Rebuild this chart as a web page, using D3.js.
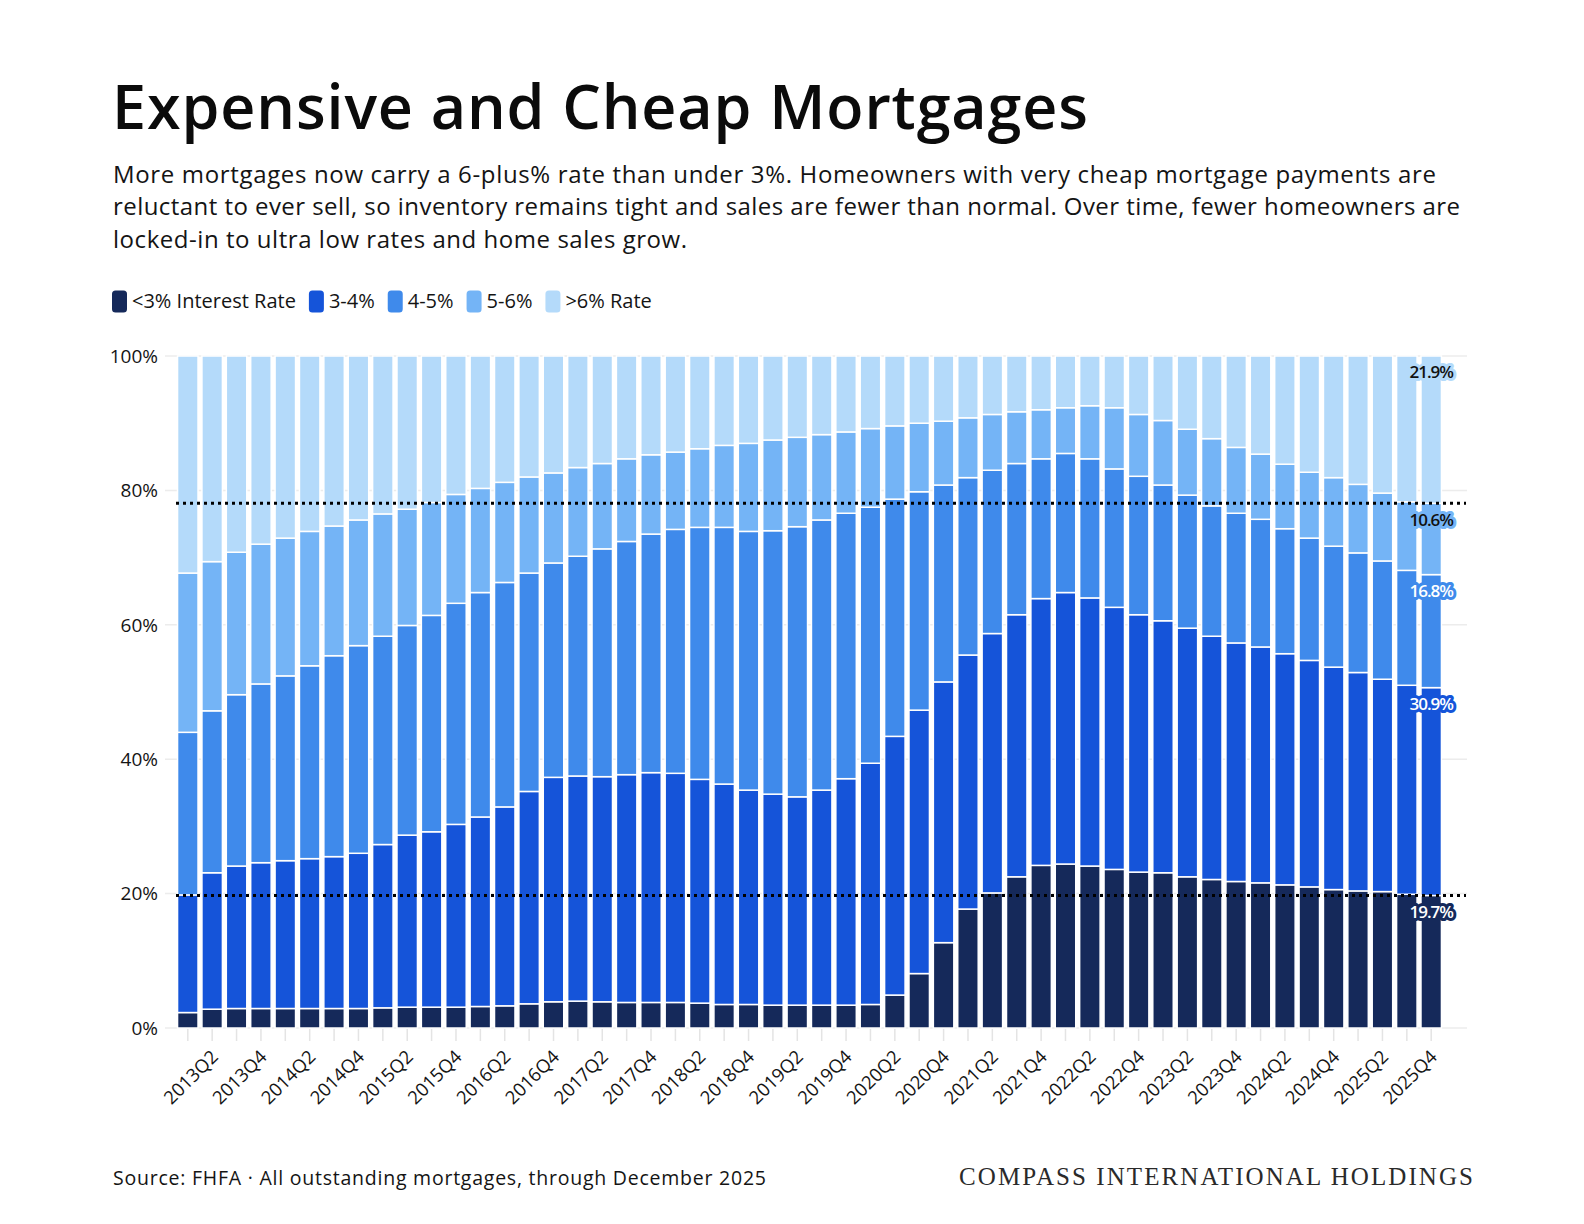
<!DOCTYPE html>
<html>
<head>
<meta charset="utf-8">
<script src="https://cdn.jsdelivr.net/npm/d3@7"></script>
<style>
  body { margin: 0; background: #fff; }
  text { font-family: "Open Sans", Lato, "Noto Sans", sans-serif; }
  .brand { font-family: "Liberation Serif", "DejaVu Serif", serif; }
</style>
</head>
<body>
<div class="chart"></div>
<script>
// quarters (x categories)
const quarters = [
  "2013Q1","2013Q2","2013Q3","2013Q4","2014Q1","2014Q2","2014Q3","2014Q4",
  "2015Q1","2015Q2","2015Q3","2015Q4","2016Q1","2016Q2","2016Q3","2016Q4",
  "2017Q1","2017Q2","2017Q3","2017Q4","2018Q1","2018Q2","2018Q3","2018Q4",
  "2019Q1","2019Q2","2019Q3","2019Q4","2020Q1","2020Q2","2020Q3","2020Q4",
  "2021Q1","2021Q2","2021Q3","2021Q4","2022Q1","2022Q2","2022Q3","2022Q4",
  "2023Q1","2023Q2","2023Q3","2023Q4","2024Q1","2024Q2","2024Q3","2024Q4",
  "2025Q1","2025Q2","2025Q3","2025Q4"
];

// share of outstanding mortgages by rate bucket, %
const lt3 = [2.3,2.8,2.9,2.9,2.9,2.9,2.9,2.9,3.0,3.1, 3.1,3.1,3.2,3.3,3.6,3.9,4.0,3.9,3.8,3.8,
  3.8,3.7,3.5,3.5,3.4,3.4,3.4,3.4,3.5,4.9, 8.1,12.7,17.7,20.1,22.5,24.2,24.4,24.1,23.6,23.2,
  23.1,22.5,22.1,21.8,21.6,21.3,21.0,20.6,20.4,20.3, 19.9,19.7];
const r34 = [17.5,20.3,21.2,21.7,22.0,22.3,22.6,23.1,24.3,25.6, 26.1,27.2,28.2,29.6,31.6,33.4,33.5,33.5,33.9,34.2,
  34.1,33.3,32.8,31.9,31.4,31.0,32.0,33.7,35.9,38.5, 39.2,38.8,37.8,38.6,39.0,39.7,40.4,39.9,39.0,38.3,
  37.5,37.0,36.2,35.5,35.1,34.4,33.7,33.1,32.5,31.6, 31.1,30.9];
const r45 = [24.2,24.1,25.5,26.6,27.5,28.7,29.9,30.9,31.0,31.2, 32.2,32.9,33.4,33.4,32.5,31.9,32.7,33.9,34.7,35.5,
  36.3,37.5,38.2,38.5,39.2,40.2,40.2,39.5,38.1,35.3, 32.5,29.3,26.4,24.3,22.5,20.8,20.7,20.7,20.6,20.6,
  20.2,19.8,19.4,19.3,19.0,18.6,18.2,18.0,17.8,17.6, 17.1,16.8];
const r56 = [23.7,22.2,21.2,20.8,20.5,20.0,19.3,18.7,18.2,17.3, 16.8,16.2,15.5,14.9,14.3,13.4,13.2,12.7,12.3,11.8,
  11.5,11.7,12.2,13.1,13.5,13.3,12.7,12.1,11.7,10.9, 10.2,9.5,8.9,8.3,7.7,7.3,6.8,7.9,9.1,9.2,
  9.6,9.8,10.0,9.8,9.7,9.6,9.8,10.2,10.2,10.1, 10.2,10.6];
const gt6 = [32.3,30.6,29.2,28.0,27.1,26.1,25.3,24.4,23.5,22.8, 21.8,20.6,19.7,18.8,18.0,17.4,16.6,16.0,15.3,14.7,
  14.3,13.8,13.3,13.0,12.5,12.1,11.7,11.3,10.8,10.4, 10.0,9.7,9.2,8.7,8.3,8.0,7.7,7.4,7.7,8.7,
  9.6,10.9,12.3,13.6,14.6,16.1,17.3,18.1,19.1,20.4, 21.7,21.9];

const keys = ["lt3", "r34", "r45", "r56", "gt6"];
const seriesNames = ["<3% Interest Rate", "3-4%", "4-5%", "5-6%", ">6% Rate"];
const colors = ["#15295a", "#1554d9", "#3f8aeb", "#74b4f6", "#b4dafa"];
const labelColors = ["#fff", "#fff", "#fff", "#111", "#111"];
const yTicks = [0, 0.2, 0.4, 0.6, 0.8, 1];

const width = 1584, height = 1224;

const svg = d3.select(".chart").append("svg")
    .attr("width", width)
    .attr("height", height)
    .style("display", "block");

// make a text line cover the same width as in the original
function fit(sel, target) {
    sel.attr("textLength", target).attr("lengthAdjust", "spacing");
    return sel;
}

// title + subtitle
fit(svg.append("text")
    .attr("x", 112).attr("y", 129)
    .attr("font-size", 61)
    .attr("font-weight", 600)
    .attr("fill", "#0b0b0b")
    .text("Expensive and Cheap Mortgages"), 976);

const subtitle = [
    ["More mortgages now carry a 6-plus% rate than under 3%. Homeowners with very cheap mortgage payments are", 1323],
    ["reluctant to ever sell, so inventory remains tight and sales are fewer than normal. Over time, fewer homeowners are", 1347],
    ["locked-in to ultra low rates and home sales grow.", 574]
];
subtitle.forEach((s, i) => {
    fit(svg.append("text")
        .attr("x", 113).attr("y", 183 + i * 32.4)
        .attr("font-size", 24)
        .attr("fill", "#141414")
        .text(s[0]), s[1]);
});

// legend
let lx = 112;
seriesNames.forEach((name, i) => {
    svg.append("rect")
        .attr("x", lx).attr("y", 290.5)
        .attr("width", 15).attr("height", 22)
        .attr("rx", 3.5)
        .attr("fill", colors[i]);
    const t = svg.append("text")
        .attr("x", lx + 20).attr("y", 307.5)
        .attr("font-size", 20)
        .attr("fill", "#141414")
        .text(name);
    lx += 20 + t.node().getComputedTextLength() + 13;
});

// scales
const x = d3.scaleBand()
    .domain(quarters)
    .range([175.6, 1443.4])
    .paddingInner(0.16)
    .paddingOuter(0.08);

const y = d3.scaleLinear()
    .domain([0, 1])
    .range([1028, 356]);

const rows = quarters.map((q, i) => ({
    q: q, lt3: lt3[i], r34: r34[i], r45: r45[i], r56: r56[i], gt6: gt6[i]
}));

const stack = d3.stack()
    .keys(keys)
    .offset(d3.stackOffsetExpand)(rows);

// gridlines + y labels
svg.append("g").selectAll("line")
    .data(yTicks)
    .join("line")
    .attr("x1", 165).attr("x2", 1467)
    .attr("y1", d => y(d)).attr("y2", d => y(d))
    .attr("stroke", "#ececec")
    .attr("stroke-width", 1.5);

svg.append("g").selectAll("text")
    .data(yTicks)
    .join("text")
    .attr("x", 158)
    .attr("y", d => y(d))
    .attr("dy", "0.36em")
    .attr("text-anchor", "end")
    .attr("font-size", 19)
    .attr("fill", "#141414")
    .text(d3.format(".0%"));

// x ticks
svg.append("g").selectAll("line")
    .data(quarters)
    .join("line")
    .attr("x1", d => x(d) + x.bandwidth() / 2)
    .attr("x2", d => x(d) + x.bandwidth() / 2)
    .attr("y1", 1029).attr("y2", 1041)
    .attr("stroke", "#e4e4e4")
    .attr("stroke-width", 1.5);

svg.append("g").selectAll("text")
    .data(quarters.filter((d, i) => i % 2 === 1))
    .join("text")
    .attr("transform", d => `translate(${x(d) + x.bandwidth() / 2 + 7},1058) rotate(-45)`)
    .attr("text-anchor", "end")
    .attr("font-size", 18.5)
    .attr("fill", "#141414")
    .text(d => d);

// stacked bars
svg.append("g").selectAll("g")
    .data(stack)
    .join("g")
    .attr("fill", (d, i) => colors[i])
    .selectAll("rect")
    .data(d => d)
    .join("rect")
    .attr("x", d => x(d.data.q))
    .attr("y", d => y(d[1]))
    .attr("width", x.bandwidth())
    .attr("height", d => y(d[0]) - y(d[1]))
    .attr("stroke", "#fff")
    .attr("stroke-width", 1.5);

// dotted reference lines at the latest <3% and >6% levels
const last = quarters.length - 1;
[stack[0][last][1], stack[3][last][1]].forEach(v => {
    svg.append("line")
        .attr("x1", 176).attr("x2", 1466)
        .attr("y1", y(v)).attr("y2", y(v))
        .attr("stroke", "#000")
        .attr("stroke-width", 3)
        .attr("stroke-dasharray", "3,4");
});

// value labels on the last bar
const lastQ = quarters[last];
stack.forEach((s, i) => {
    const raw = [lt3, r34, r45, r56, gt6][i][last];
    svg.append("text")
        .attr("x", x(lastQ) + x.bandwidth() / 2)
        .attr("y", y(s[last][1]) + 16.5)
        .attr("dy", "0.35em")
        .attr("text-anchor", "middle")
        .attr("font-size", 17)
        .attr("font-weight", 600)
        .attr("fill", labelColors[i])
        .attr("stroke", colors[i])
        .attr("stroke-width", 6)
        .attr("stroke-linejoin", "round")
        .attr("paint-order", "stroke")
        .attr("letter-spacing", -1)
        .text(d3.format(".1f")(raw) + "%");
});

// footer
fit(svg.append("text")
    .attr("x", 113).attr("y", 1184.5)
    .attr("font-size", 19.5)
    .attr("fill", "#141414")
    .text("Source: FHFA \u00b7 All outstanding mortgages, through December 2025"), 653);

fit(svg.append("text")
    .attr("class", "brand")
    .attr("x", 959).attr("y", 1185)
    .attr("font-size", 25)
    .attr("fill", "#2a2a2a")
    .text("COMPASS INTERNATIONAL HOLDINGS"), 514);
</script>
</body>
</html>
